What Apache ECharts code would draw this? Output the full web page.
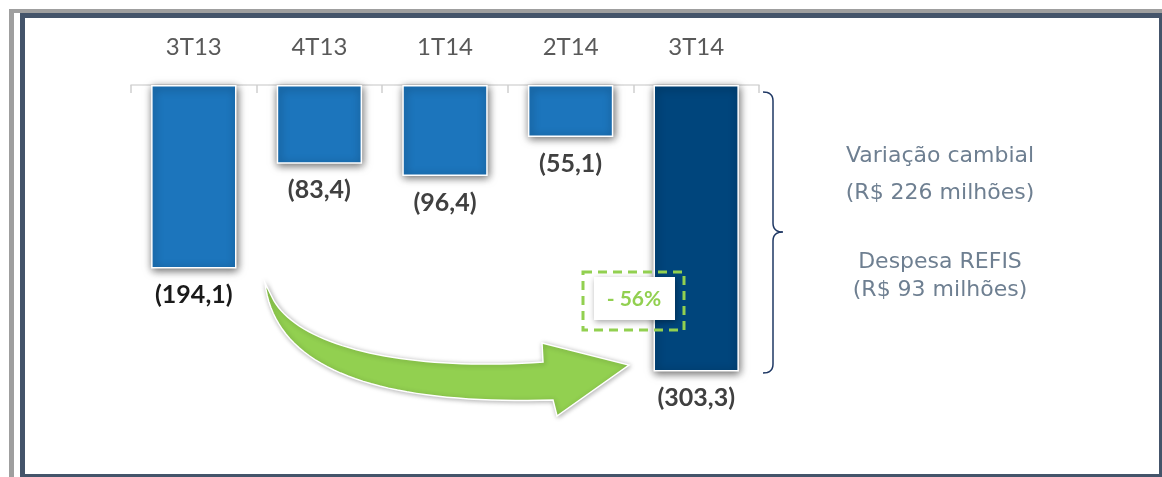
<!DOCTYPE html>
<html>
<head>
<meta charset="utf-8">
<script src="https://cdn.jsdelivr.net/npm/echarts@6/dist/echarts.min.js"></script>
<style>
	html, body { margin:0; padding:0; background:#fff; }
	#chart { width:1162px; height:477px; }
</style>
</head>
<body>
<div id="chart"></div>
<script>
// trimestres e resultado (valores negativos, R$ milhões)
var categories = ['3T13', '4T13', '1T14', '2T14', '3T14']
var values = [-194.1, -83.4, -96.4, -55.1, -303.3]
var barColors = ['#1C75BC', '#1C75BC', '#1C75BC', '#1C75BC', '#00457C']
var labelColors = ['#1a1a1a', '#404040', '#404040', '#404040', '#404040']
var variationText = '- 56%'
var noteLines = ['Variação cambial', '(R$ 226 milhões)', 'Despesa REFIS', '(R$ 93 milhões)']

var chartInstance = echarts.init(document.getElementById('chart'))

function fmt(v){
	return '(' + Math.abs(v).toFixed(1).replace('.', ',') + ')'
}

// amostra uma curva de bezier (quadratica ou cubica) em pontos
function bez(p, n){
	var out = []
	for (var i = 0; i <= n; i++) {
		var t = i / n, u = 1 - t
		if (p.length === 3) {
			out.push([u*u*p[0][0] + 2*u*t*p[1][0] + t*t*p[2][0], u*u*p[0][1] + 2*u*t*p[1][1] + t*t*p[2][1]])
		} else {
			out.push([
				u*u*u*p[0][0] + 3*u*u*t*p[1][0] + 3*u*t*t*p[2][0] + t*t*t*p[3][0],
				u*u*u*p[0][1] + 3*u*u*t*p[1][1] + 3*u*t*t*p[2][1] + t*t*t*p[3][1]
			])
		}
	}
	return out
}

var arrowPts = [].concat(
	bez([[265,283],[275,370],[380,405],[553,400]], 40),
	[[557,416],[629,365],[542,343]],
	bez([[543,362],[400,372],[295,345],[272,297]], 40)
)

var bracePts = [].concat(
	bez([[763,92],[773,92],[773,101]], 8),
	bez([[773,223],[773,232],[783,232]], 8),
	bez([[783,232],[773,232],[773,241]], 8),
	bez([[773,364],[773,373],[763,373]], 8)
)

var barData = values.map(function(v, i){
	return { value: v, itemStyle: { color: barColors[i] }, label: { color: labelColors[i] } }
})

var noteStyle = function(txt, y){
	return { type: 'text', z: 50, style: { text: txt, x: 940, y: y, align: 'center', verticalAlign: 'middle', fill: '#6E7F91', font: '22px "DejaVu Sans"' } }
}

var option = {
	animation: false,
	grid: { left: 131, right: 403, top: 85, bottom: 89.6 },
	xAxis: {
		type: 'category',
		position: 'top',
		data: categories,
		axisLine: { lineStyle: { color: '#d9d9d9', width: 1.5 } },
		axisTick: { show: true, inside: true, length: 8, lineStyle: { color: '#d0d0d0', width: 1.5 } },
		axisLabel: { color: '#595959', fontSize: 24, fontFamily: 'Lato', margin: 26 }
	},
	yAxis: {
		type: 'value',
		min: -320,
		max: 0,
		show: false,
		splitLine: { show: false }
	},
	series: [{
		type: 'bar',
		z: 3,
		data: barData,
		barWidth: '68%',
		itemStyle: {
			borderColor: '#fff',
			borderWidth: 1.5,
			shadowBlur: 8,
			shadowColor: 'rgba(0,0,0,0.6)',
			shadowOffsetX: 1,
			shadowOffsetY: 2
		},
		label: {
			show: true,
			position: 'bottom',
			distance: 14,
			fontSize: 25,
			fontWeight: 'bold',
			fontFamily: 'Lato',
			formatter: function(p){ return fmt(p.value) }
		}
	}],
	graphic: [
		// moldura
		{ type: 'line', z: 50, shape: { x1: 9, y1: 11, x2: 1162, y2: 11 }, style: { stroke: '#9f9f9f', lineWidth: 4 } },
		{ type: 'line', z: 50, shape: { x1: 11.5, y1: 9, x2: 11.5, y2: 477 }, style: { stroke: '#9f9f9f', lineWidth: 5 } },
		{ type: 'rect', z: 50, shape: { x: 22.5, y: 15.5, width: 1139, height: 461 }, style: { fill: 'none', stroke: '#44546A', lineWidth: 5 } },
		// chave
		{ type: 'polyline', z: 50, shape: { points: bracePts }, style: { fill: 'none', stroke: '#1F3864', lineWidth: 1.5 } },
		noteStyle(noteLines[0], 156),
		noteStyle(noteLines[1], 193),
		noteStyle(noteLines[2], 262),
		noteStyle(noteLines[3], 290),
		// seta verde
		{
			type: 'polygon', z: 60,
			shape: { points: arrowPts },
			style: { fill: '#92D050', stroke: '#fff', lineWidth: 1.5, shadowBlur: 5, shadowColor: 'rgba(0,0,0,0.3)', shadowOffsetX: 1, shadowOffsetY: 1 }
		},
		// caixa -56%
		{
			type: 'rect', z: 70,
			shape: { x: 594, y: 277, width: 81, height: 43 },
			style: { fill: '#fff', shadowBlur: 6, shadowColor: 'rgba(0,0,0,0.35)', shadowOffsetX: 1, shadowOffsetY: 2 }
		},
		{
			type: 'rect', z: 71,
			shape: { x: 583, y: 272, width: 101, height: 58 },
			style: { fill: 'none', stroke: '#92D050', lineWidth: 3, lineDash: [9, 6] }
		},
		{ type: 'text', z: 72, style: { text: variationText, x: 634, y: 299, align: 'center', verticalAlign: 'middle', fill: '#92D050', font: 'bold 21px Lato' } }
	]
}
chartInstance.setOption(option)
</script>
</body>
</html>
